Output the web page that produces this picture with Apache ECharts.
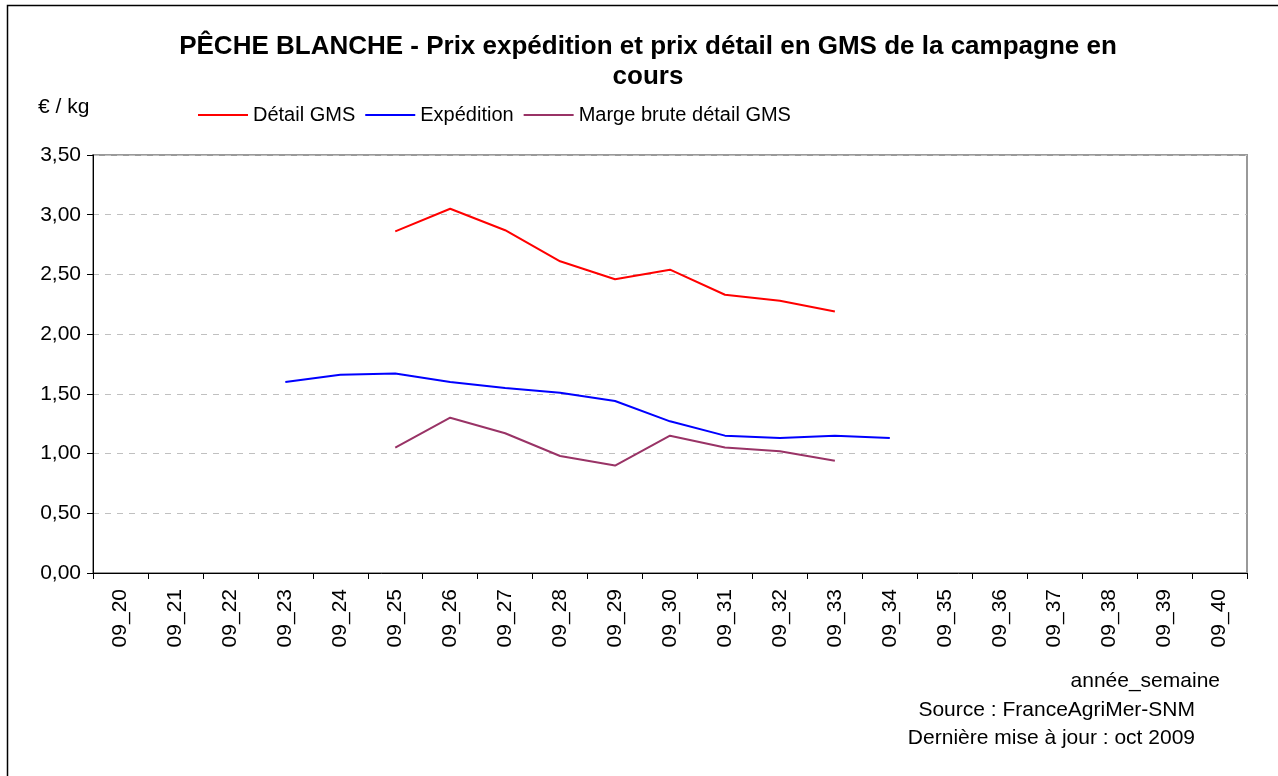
<!DOCTYPE html>
<html>
<head>
<meta charset="utf-8">
<script src="https://cdn.jsdelivr.net/npm/echarts@6/dist/echarts.min.js"></script>
<style>
  html, body { margin: 0; padding: 0; background: #fff; }
  #main { width: 1278px; height: 776px; }
</style>
</head>
<body>
<div id="main"></div>
<script>
// semaines 09_20 .. 09_40
var semaines = ['09_20', '09_21', '09_22', '09_23', '09_24', '09_25', '09_26', '09_27', '09_28', '09_29', '09_30',
  '09_31', '09_32', '09_33', '09_34', '09_35', '09_36', '09_37', '09_38', '09_39', '09_40'];

var detailGMS = [null, null, null, null, null, 2.86, 3.05, 2.87, 2.61, 2.46, 2.54,
  2.33, 2.28, 2.19, null, null, null, null, null, null, null];

var expedition = [null, null, null, 1.60, 1.66, 1.67, 1.60, 1.55, 1.51, 1.44, 1.27,
  1.15, 1.13, 1.15, 1.13, null, null, null, null, null, null];

var margeBrute = [null, null, null, null, null, 1.05, 1.30, 1.17, 0.98, 0.90, 1.15,
  1.05, 1.02, 0.94, null, null, null, null, null, null, null];

var myChart = echarts.init(document.getElementById('main'));
var police = 'Liberation Sans, Arial, sans-serif';

function serie(nom, data, couleur) {
  return {
    name : nom,
    type : 'line',
    data : data,
    showSymbol : false,
    connectNulls : false,
    lineStyle : { color : couleur, width : 2 },
    itemStyle : { color : couleur },
    animation : false
  };
}

var option = {
  backgroundColor : '#fff',
  textStyle : { fontFamily : police },
  title : {
    text : 'PÊCHE BLANCHE - Prix expédition et prix détail en GMS de la campagne en\ncours',
    left : 643,
    textAlign : 'center',
    top : 27,
    textStyle : {
      fontFamily : police,
      fontSize : 26,
      fontWeight : 'bold',
      color : '#000',
      lineHeight : 30
    }
  },
  legend : {
    left : 193,
    top : 100,
    itemWidth : 50,
    itemHeight : 2,
    itemGap : 10,
    icon : 'rect',
    textStyle : { fontSize : 20, color : '#000', fontFamily : police },
    data : ['Détail GMS', 'Expédition', 'Marge brute détail GMS']
  },
  grid : {
    left : 93,
    right : 31,
    top : 155,
    bottom : 203,
    show : true,
    borderColor : '#999',
    borderWidth : 2
  },
  xAxis : {
    type : 'category',
    boundaryGap : true,
    data : semaines,
    axisLine : { lineStyle : { color : '#000', width : 1 } },
    axisTick : { show : true, interval : 0, length : 6, lineStyle : { color : '#000' } },
    axisLabel : {
      interval : 0,
      rotate : 90,
      fontSize : 21,
      color : '#000',
      margin : 16,
      fontFamily : police
    }
  },
  yAxis : {
    type : 'value',
    min : 0,
    max : 3.5,
    interval : 0.5,
    axisLine : { show : true, lineStyle : { color : '#000', width : 1 } },
    axisTick : { show : true, length : 6, lineStyle : { color : '#000' } },
    axisLabel : {
      fontSize : 21,
      color : '#000',
      margin : 12,
      fontFamily : police,
      formatter : function (v) { return v.toFixed(2).replace('.', ','); }
    },
    splitLine : { show : true, lineStyle : { color : '#c0c0c0', type : [6, 6], width : 1 } }
  },
  series : [
    serie('Détail GMS', detailGMS, '#ff0000'),
    serie('Expédition', expedition, '#0000ff'),
    serie('Marge brute détail GMS', margeBrute, '#993366')
  ],
  graphic : [
    {
      type : 'rect',
      left : 5, top : 3,
      shape : { width : 1300, height : 800 },
      style : { fill : 'none', stroke : '#000', lineWidth : 1.5 },
      silent : true
    },
    {
      type : 'text', left : 38, top : 97,
      style : { text : '€ / kg', fontSize : 21, fill : '#000', fontFamily : police }
    },
    {
      type : 'text', right : 58, top : 671,
      style : { text : 'année_semaine', fontSize : 21, fill : '#000', fontFamily : police }
    },
    {
      type : 'text', right : 83, top : 700,
      style : { text : 'Source : FranceAgriMer-SNM', fontSize : 21, fill : '#000', fontFamily : police }
    },
    {
      type : 'text', right : 83, top : 728,
      style : { text : 'Dernière mise à jour : oct 2009', fontSize : 21, fill : '#000', fontFamily : police }
    }
  ]
};

myChart.setOption(option);
</script>
</body>
</html>
